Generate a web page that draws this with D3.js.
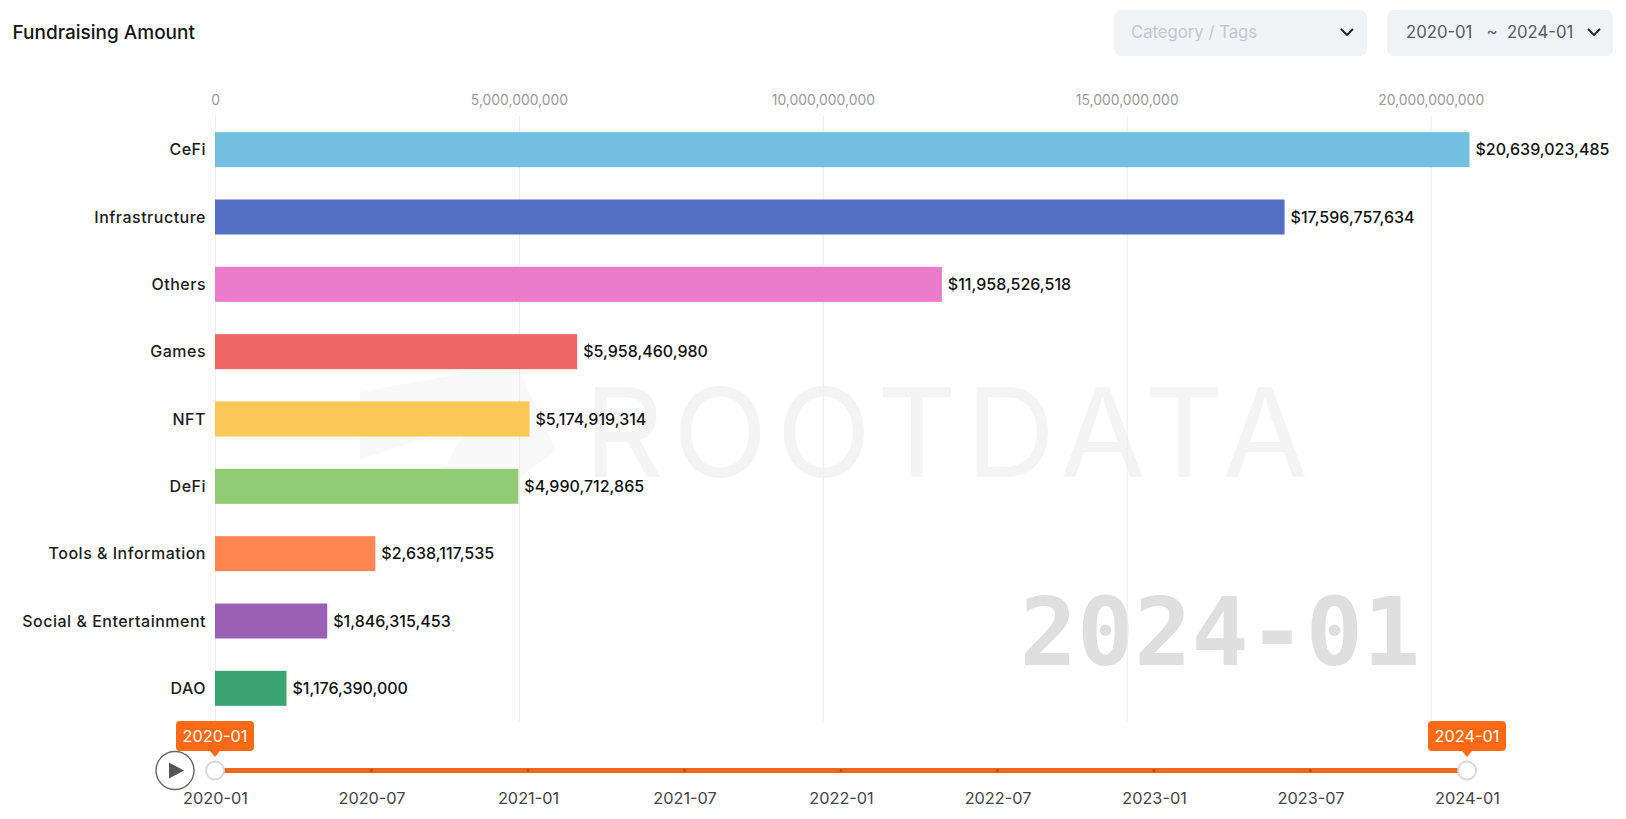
<!DOCTYPE html>
<html lang="en">
<head>
    <meta charset="UTF-8">
    <title>Fundraising Amount</title>
    <script src="https://cdnjs.cloudflare.com/ajax/libs/d3/7.8.5/d3.min.js"></script>
    <style>
        html, body { margin: 0; padding: 0; background: #fff; overflow: hidden; }
        svg, svg text, .tick text { font-family: Inter, "Noto Sans", sans-serif; }
        .x-axis .domain, .time-axis .domain, .time-axis line { display: none; }
        .x-axis line { stroke: #ececee; }
        .x-axis text { fill: #9a9a9a; font-size: 13.9px; }
        .y-axis .domain, .y-axis line { display: none; }
        .y-axis text { fill: #1c1c1c; font-size: 16px; font-weight: 500; letter-spacing: 0.5px; }
        .value-label { fill: #111; font-size: 16px; font-weight: 500; }
        .time-axis text { fill: #444; font-size: 16.3px; }
        svg text.mono { font-family: "DejaVu Sans Mono", monospace; }
    </style>
</head>
<body>
    <div id="chart"></div>
    <script>
    const categories = ["CeFi", "Infrastructure", "Others", "Games", "NFT", "DeFi", "Tools & Information", "Social & Entertainment", "DAO"];
    const amounts = [20639023485, 17596757634, 11958526518, 5958460980, 5174919314, 4990712865, 2638117535, 1846315453, 1176390000];
    const colors = ["#72bfdf", "#536fc6", "#eb7bcb", "#ef6666", "#fbc858", "#91cc75", "#ff8650", "#9a60b4", "#3ba272"];
    const xTicks = [0, 5000000000, 10000000000, 15000000000, 20000000000];
    const timeLabels = ["2020-01", "2020-07", "2021-01", "2021-07", "2022-01", "2022-07", "2023-01", "2023-07", "2024-01"];
    const rangeStart = "2020-01";
    const rangeEnd = "2024-01";

    const width = 1626, height = 819;
    const plot = {left: 215, right: 1469.5, top: 116, bottom: 722};

    const svg = d3.select("#chart").append("svg")
        .attr("width", width)
        .attr("height", height)
        .style("display", "block");

    const x = d3.scaleLinear()
        .domain([0, d3.max(amounts)])
        .range([plot.left, plot.right]);

    const y = d3.scaleBand()
        .domain(categories)
        .range([plot.top, plot.bottom])
        .paddingInner(0.48)
        .paddingOuter(0.24);

    const timeScale = d3.scalePoint()
        .domain(timeLabels)
        .range([215, 1467]);

    // Watermarks sit under everything else
    svg.append("path")
        .attr("d", "M360 392 L470 372 L520 372 L556 450 L520 478 L440 478 L470 420 L420 440 L360 460 Z")
        .attr("fill", "#f9f9f9");

    svg.append("text")
        .attr("x", 584)
        .attr("y", 477)
        .attr("font-size", 124)
        .attr("font-weight", 400)
        .attr("letter-spacing", 9)
        .attr("fill", "#f4f4f4")
        .text("ROOTDATA");

    svg.append("text")
        .attr("class", "mono")
        .attr("x", 1220)
        .attr("y", 665)
        .attr("text-anchor", "middle")
        .attr("font-weight", 700)
        .attr("font-size", 95)
        .attr("fill", "#dfdfdf")
        .text(rangeEnd);

    // Header
    svg.append("text")
        .attr("x", 12.5)
        .attr("y", 39)
        .attr("font-size", 19)
        .attr("font-weight", 500)
        .attr("fill", "#151515")
        .text("Fundraising Amount");

    const dropdowns = [
        {x: 1114, w: 253, label: "Category / Tags", fill: "#c3c8cf", textX: 1131, arrow: 1347},
        {x: 1387, w: 226, label: `${rangeStart}   ~  ${rangeEnd}`, fill: "#555b6b", textX: 1406, arrow: 1594}
    ];
    const dd = svg.selectAll(".dropdown").data(dropdowns).join("g").attr("class", "dropdown");
    dd.append("rect")
        .attr("x", d => d.x).attr("y", 10)
        .attr("width", d => d.w).attr("height", 46)
        .attr("rx", 7)
        .attr("fill", "#f1f4f7");
    dd.append("text")
        .attr("x", d => d.textX).attr("y", 38)
        .attr("font-size", 16.7)
        .attr("fill", d => d.fill)
        .style("white-space", "pre")
        .text(d => d.label);
    dd.append("path")
        .attr("d", d => `M${d.arrow - 6} 29 L${d.arrow} 35 L${d.arrow + 6} 29`)
        .attr("fill", "none")
        .attr("stroke", "#222")
        .attr("stroke-width", 1.8);

    // Axes
    svg.append("g")
        .attr("class", "x-axis")
        .attr("transform", `translate(0,${plot.top})`)
        .call(d3.axisTop(x).tickValues(xTicks).tickFormat(d3.format(",")).tickSize(plot.top - plot.bottom).tickPadding(0))
        .call(g => g.selectAll("text").attr("y", -11).attr("dy", 0));

    svg.append("g")
        .attr("class", "y-axis")
        .attr("transform", `translate(${plot.left},0.7)`)
        .call(d3.axisLeft(y).tickSize(0).tickPadding(9));

    // Bars and value labels
    svg.selectAll(".bar")
        .data(categories)
        .join("rect")
        .attr("class", "bar")
        .attr("x", x(0))
        .attr("y", d => y(d))
        .attr("width", (d, i) => x(amounts[i]) - x(0))
        .attr("height", y.bandwidth())
        .attr("fill", (d, i) => colors[i]);

    svg.selectAll(".value-label")
        .data(categories)
        .join("text")
        .attr("class", "value-label")
        .attr("x", (d, i) => x(amounts[i]) + 6)
        .attr("y", d => y(d) + y.bandwidth() / 2)
        .attr("dy", "0.35em")
        .text((d, i) => "$" + d3.format(",")(amounts[i]));

    // Timeline
    const trackY = 770.5;
    svg.append("line")
        .attr("x1", timeScale(rangeStart)).attr("x2", timeScale(rangeEnd))
        .attr("y1", trackY).attr("y2", trackY)
        .attr("stroke", "#f0671c")
        .attr("stroke-width", 5);

    svg.selectAll(".time-dot")
        .data(timeLabels.slice(1, -1))
        .join("circle")
        .attr("class", "time-dot")
        .attr("cx", d => timeScale(d))
        .attr("cy", trackY)
        .attr("r", 1.5)
        .attr("fill", "#a8501c");

    svg.append("g")
        .attr("class", "time-axis")
        .attr("transform", "translate(0,790)")
        .call(d3.axisBottom(timeScale).tickSize(0).tickPadding(0))
        .call(g => g.selectAll("text").attr("y", 0).attr("dy", "0.85em"));

    const handles = svg.selectAll(".handle")
        .data([rangeStart, rangeEnd])
        .join("g")
        .attr("class", "handle")
        .attr("transform", d => `translate(${timeScale(d)},0)`);
    handles.append("circle")
        .attr("cy", trackY)
        .attr("r", 9)
        .attr("fill", "#fff")
        .attr("stroke", "#d9d9d9")
        .attr("stroke-width", 2);
    handles.append("rect")
        .attr("x", -39).attr("y", 721)
        .attr("width", 78).attr("height", 30)
        .attr("rx", 4)
        .attr("fill", "#fe6a14");
    handles.append("path")
        .attr("d", "M-5 751 L0 757 L5 751 Z")
        .attr("fill", "#fe6a14");
    handles.append("text")
        .attr("y", 742)
        .attr("text-anchor", "middle")
        .attr("font-size", 16.3)
        .attr("fill", "#fff")
        .text(d => d);

    // Play button
    const play = svg.append("g").attr("transform", `translate(175,${trackY})`);
    play.append("circle")
        .attr("r", 19)
        .attr("fill", "#fff")
        .attr("stroke", "#666")
        .attr("stroke-width", 1.4);
    play.append("path")
        .attr("d", "M-6 -8 L9 0 L-6 8 Z")
        .attr("fill", "#555");
    </script>
</body>
</html>
